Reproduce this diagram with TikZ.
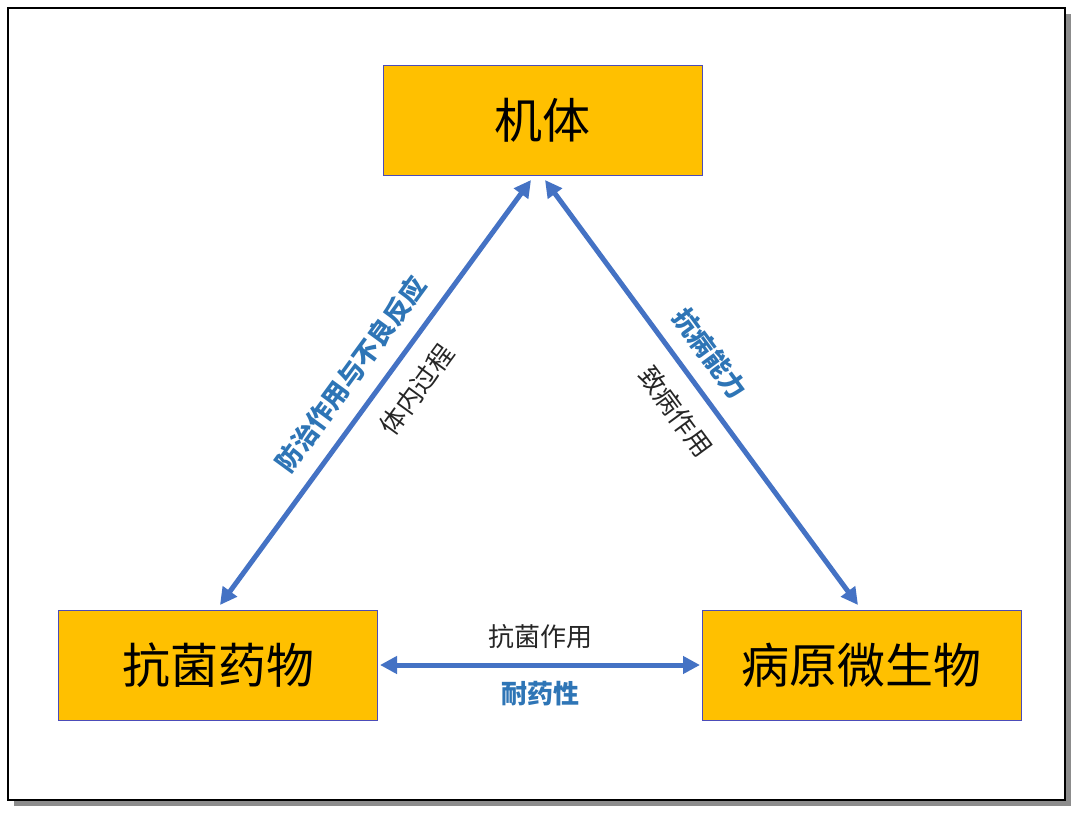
\documentclass[tikz,border=0pt]{standalone}
\usepackage{fontspec}
\setmainfont{Noto Sans CJK SC}
\newfontfamily\cjk{Noto Sans CJK SC}
\usetikzlibrary{arrows.meta}
\tikzset{
  box/.style={draw=blue!60!black!70, fill=boxorange, minimum width=319pt, minimum height=110pt, inner sep=0pt, font=\fontsize{48}{52}\selectfont},
  link/.style={{Triangle[width=17pt,length=17pt]}-{Triangle[width=17pt,length=17pt]}, linkblue, line width=5pt},
  tag/.style={font=\fontsize{26}{30}\selectfont, text=black!85},
  btag/.style={font=\bfseries\fontsize{26}{30}\selectfont, text=tagblue}
}
\definecolor{boxorange}{HTML}{FFC000}
\definecolor{linkblue}{HTML}{4472C4}
\definecolor{tagblue}{HTML}{2E75B6}
\begin{document}
\begin{tikzpicture}[x=1pt,y=-1pt]
    \useasboundingbox (0,0) rectangle (1080,815);
    % frame with shadow
    \fill[black!45] (14,14) rectangle (1071,806);
    \draw[fill=white, line width=2.5pt] (8,8) rectangle (1065,800);

    \node[box] (jiti) at (542.5,120) {机体};
    \node[box] (yaowu) at (218,665) {抗菌药物};
    \node[box] (bingyuan) at (861.5,665) {病原微生物};

    \coordinate (jl) at (531,180);
    \coordinate (jr) at (545,180);
    \coordinate (yt) at (220,605);
    \coordinate (bt) at (858,605);
    \coordinate (ye) at (380,665);
    \coordinate (be) at (700,665);

    \draw[link] (jl) to node[pos=0.5, above=12pt, sloped, btag]{防治作用与不良反应}
                         node[pos=0.45, below=14pt, sloped, tag]{体内过程} (yt);
    \draw[link] (jr) to node[pos=0.45, above=12pt, sloped, btag]{抗病能力}
                         node[pos=0.5, below=14pt, sloped, tag]{致病作用} (bt);
    \draw[link] (ye) to node[above=10pt, tag]{抗菌作用}
                         node[below=10pt, btag]{耐药性} (be);
\end{tikzpicture}
\end{document}
